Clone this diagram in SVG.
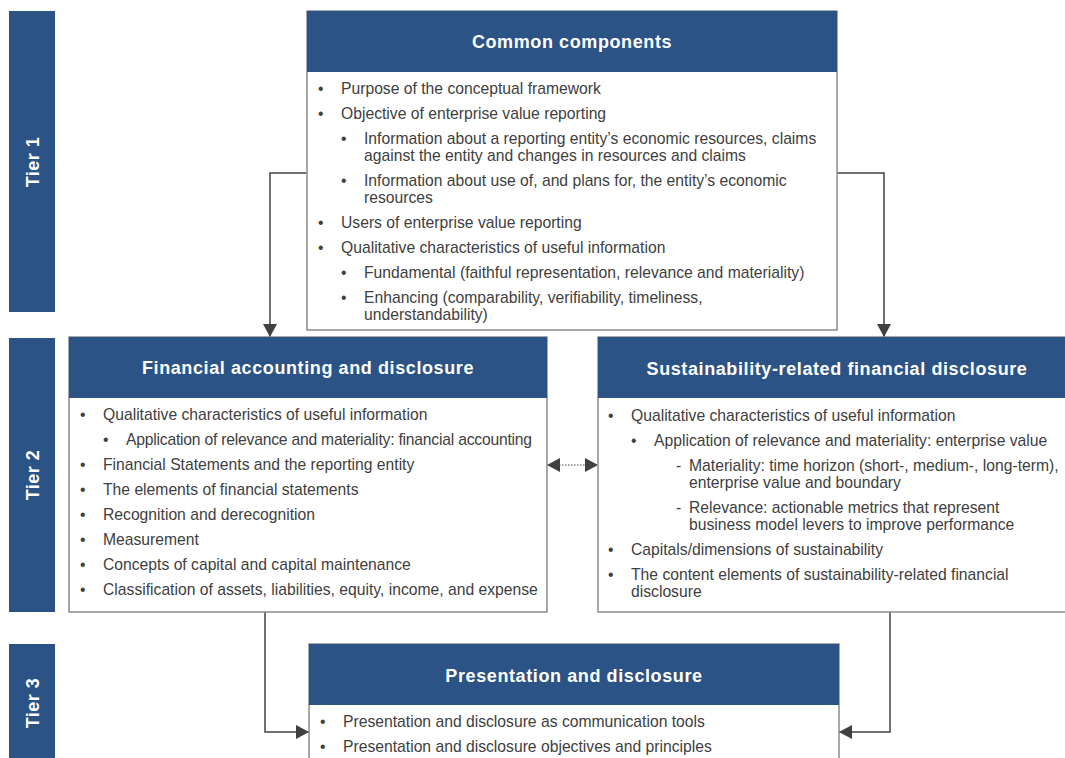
<svg xmlns="http://www.w3.org/2000/svg" width="1065" height="758" viewBox="0 0 1065 758">
<style>
.tier{fill:#2B5385}
.tt{fill:#fff;font-family:"Liberation Sans",Arial,sans-serif;font-weight:bold;font-size:18px;letter-spacing:0.5px;text-anchor:middle}
.box{fill:#fff;stroke:#8c8c8c;stroke-width:1.5}
.hdr{fill:#2B5385}
.ht{fill:#fff;font-family:"Liberation Sans",Arial,sans-serif;font-weight:bold;font-size:18px;letter-spacing:0.6px;text-anchor:middle}
.b{fill:#404040;font-family:"Liberation Sans",Arial,sans-serif;font-size:15.7px}
.tight{letter-spacing:-0.22px}
.con{fill:none;stroke:#404040;stroke-width:1.5}
.dot{fill:none;stroke:#404040;stroke-width:1.2;stroke-dasharray:1.5 1.5}
</style>
<defs>
<marker id="ah" markerUnits="userSpaceOnUse" markerWidth="13" markerHeight="14" viewBox="0 0 13 14" refX="13" refY="7" orient="auto">
<path d="M0,0 L13,7 L0,14 z" fill="#404040"/>
</marker>
<marker id="ahs" markerUnits="userSpaceOnUse" markerWidth="13" markerHeight="14" viewBox="0 0 13 14" refX="0" refY="7" orient="auto">
<path d="M13,0 L0,7 L13,14 z" fill="#404040"/>
</marker>
</defs>

<g id="tier1"><rect class="tier" x="9" y="11" width="46" height="301"/><text class="tt" transform="translate(39,162) rotate(-90)">Tier 1</text></g>
<g id="tier2"><rect class="tier" x="9" y="338" width="46" height="274"/><text class="tt" transform="translate(39,475) rotate(-90)">Tier 2</text></g>
<g id="tier3"><rect class="tier" x="9" y="644" width="46" height="120"/><text class="tt" transform="translate(39,703) rotate(-90)">Tier 3</text></g>

<g id="connectors">
<path class="con" d="M307,173 H270 V337" marker-end="url(#ah)"/>
<path class="con" d="M837,173 H884 V337" marker-end="url(#ah)"/>
<path class="dot" d="M547,465 H598" marker-start="url(#ahs)" marker-end="url(#ah)"/>
<path class="con" d="M265,612 V732 H309" marker-end="url(#ah)"/>
<path class="con" d="M890,612 V732 H839" marker-end="url(#ah)"/>
</g>

<g id="common">
<rect class="box" x="307" y="11" width="530" height="319"/>
<rect class="hdr" x="307" y="11" width="530" height="61"/>
<text class="ht" x="572" y="48">Common components</text>
<g class="b">
<text x="318" y="94">•</text><text x="341" y="94">Purpose of the conceptual framework</text>
<text x="318" y="119">•</text><text x="341" y="119">Objective of enterprise value reporting</text>
<text x="341" y="144">•</text><text x="364" y="144">Information about a reporting entity’s economic resources, claims</text>
<text x="364" y="161">against the entity and changes in resources and claims</text>
<text x="341" y="186">•</text><text x="364" y="186">Information about use of, and plans for, the entity’s economic</text>
<text x="364" y="203">resources</text>
<text x="318" y="228">•</text><text x="341" y="228">Users of enterprise value reporting</text>
<text x="318" y="253">•</text><text x="341" y="253">Qualitative characteristics of useful information</text>
<text x="341" y="278">•</text><text x="364" y="278">Fundamental (faithful representation, relevance and materiality)</text>
<text x="341" y="303">•</text><text x="364" y="303">Enhancing (comparability, verifiability, timeliness,</text>
<text x="364" y="320">understandability)</text>
</g>
</g>

<g id="financial">
<rect class="box" x="69" y="337" width="478" height="275"/>
<rect class="hdr" x="69" y="337" width="478" height="61"/>
<text class="ht" x="308" y="374">Financial accounting and disclosure</text>
<g class="b">
<text x="80" y="420">•</text><text x="103" y="420">Qualitative characteristics of useful information</text>
<text x="103" y="445">•</text><text class="tight" x="126" y="445">Application of relevance and materiality: financial accounting</text>
<text x="80" y="470">•</text><text x="103" y="470">Financial Statements and the reporting entity</text>
<text x="80" y="495">•</text><text x="103" y="495">The elements of financial statements</text>
<text x="80" y="520">•</text><text x="103" y="520">Recognition and derecognition</text>
<text x="80" y="545">•</text><text x="103" y="545">Measurement</text>
<text x="80" y="570">•</text><text x="103" y="570">Concepts of capital and capital maintenance</text>
<text x="80" y="595">•</text><text x="103" y="595">Classification of assets, liabilities, equity, income, and expense</text>
</g>
</g>

<g id="sustainability">
<rect class="box" x="598" y="337" width="480" height="275"/>
<rect class="hdr" x="598" y="337" width="480" height="61"/>
<text class="ht" x="837" y="375">Sustainability-related financial disclosure</text>
<g class="b">
<text x="608" y="421">•</text><text x="631" y="421">Qualitative characteristics of useful information</text>
<text x="631" y="446">•</text><text x="654" y="446">Application of relevance and materiality: enterprise value</text>
<text x="676" y="471">-</text><text x="689" y="471">Materiality: time horizon (short-, medium-, long-term),</text>
<text x="689" y="488">enterprise value and boundary</text>
<text x="676" y="513">-</text><text x="689" y="513">Relevance: actionable metrics that represent</text>
<text x="689" y="530">business model levers to improve performance</text>
<text x="608" y="555">•</text><text x="631" y="555">Capitals/dimensions of sustainability</text>
<text x="608" y="580">•</text><text x="631" y="580">The content elements of sustainability-related financial</text>
<text x="631" y="597">disclosure</text>
</g>
</g>

<g id="presentation">
<rect class="box" x="309" y="644" width="530" height="130"/>
<rect class="hdr" x="309" y="644" width="530" height="61"/>
<text class="ht" x="574" y="682">Presentation and disclosure</text>
<g class="b">
<text x="320" y="727">•</text><text x="343" y="727">Presentation and disclosure as communication tools</text>
<text x="320" y="752">•</text><text x="343" y="752">Presentation and disclosure objectives and principles</text>
</g>
</g>
</svg>
